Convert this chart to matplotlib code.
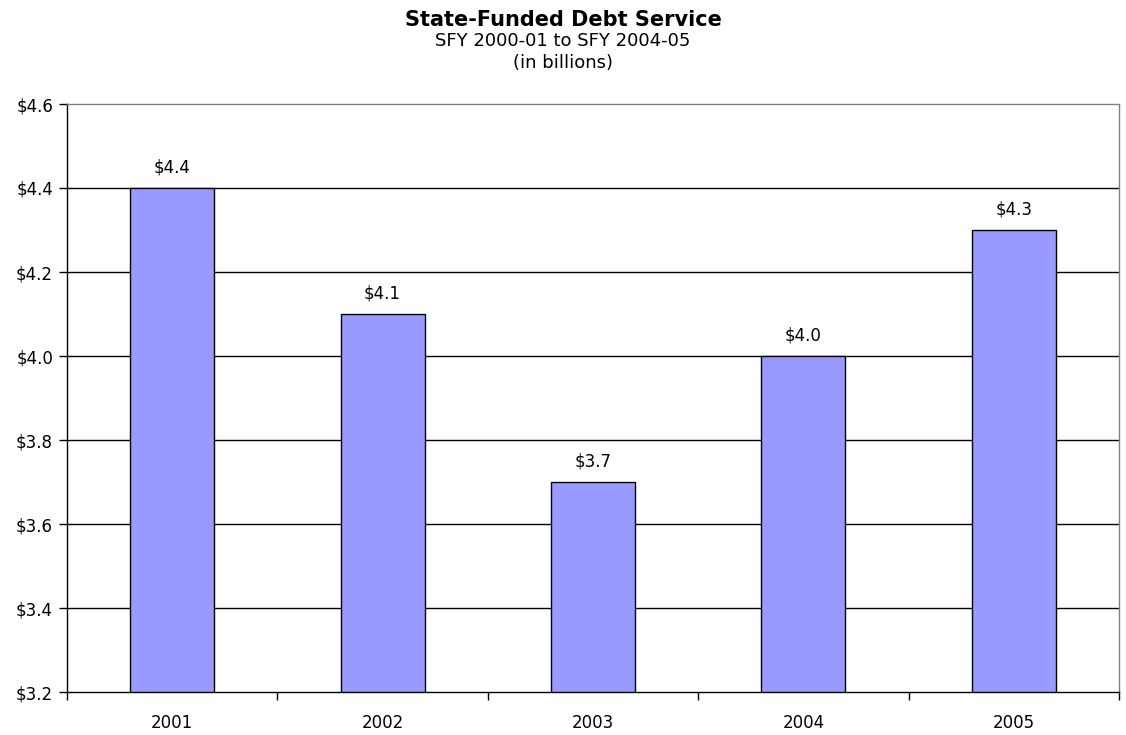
import matplotlib
matplotlib.use("Agg")
import matplotlib.pyplot as plt
import numpy as np

years = ["2001", "2002", "2003", "2004", "2005"]
values = [4.4, 4.1, 3.7, 4.0, 4.3]
yticks = [3.2, 3.4, 3.6, 3.8, 4.0, 4.2, 4.4, 4.6]

plt.rcParams['font.family'] = ['DejaVu Sans']
fig = plt.figure(figsize=(11.26, 7.35), dpi=100)
ax = fig.add_axes([67/1126, 1-692/735, (1119-67)/1126, (692-104)/735])

x = np.arange(len(years))
ax.bar(x, [v - 3.2 for v in values], bottom=3.2, width=0.4, color="#9999FF",
       edgecolor="black", linewidth=1.0, zorder=3)
for xi, v in zip(x, values):
    ax.annotate(f"${v:.1f}", (xi, v), xytext=(0, 8), textcoords="offset points",
                ha="center", va="bottom", fontsize=12, color="black")

ax.set_xlim(-0.5, len(years) - 0.5)
ax.set_ylim(3.2, 4.6)
ax.set_yticks(yticks)
ax.set_yticklabels([f"${t:.1f}" for t in yticks], fontsize=12)
for t in yticks[1:-1]:
    ax.axhline(t, color="black", linewidth=1.0, zorder=1)

ax.set_xticks(np.arange(-0.5, len(years), 1.0))
ax.set_xticklabels([])
ax.set_xticks(x, minor=True)
ax.set_xticklabels(years, minor=True, fontsize=12)
ax.tick_params(axis="x", which="minor", length=0, pad=16)
ax.tick_params(axis="x", which="major", length=6, width=1, direction="out")
ax.tick_params(axis="y", length=6, width=1, direction="out", pad=4)

ax.spines["left"].set_color("black")
ax.spines["bottom"].set_color("black")
ax.spines["top"].set_color("#808080")
ax.spines["right"].set_color("#808080")
for s in ax.spines.values():
    s.set_linewidth(1.0)

fig.text(0.5, 1-20/735, "State-Funded Debt Service", ha="center", va="center",
         fontsize=15, fontweight="bold")
fig.text(0.5, 1-41/735, "SFY 2000-01 to SFY 2004-05", ha="center", va="center", fontsize=13)
fig.text(0.5, 1-63/735, "(in billions)", ha="center", va="center", fontsize=13)

fig.savefig("out.png", dpi=100)
